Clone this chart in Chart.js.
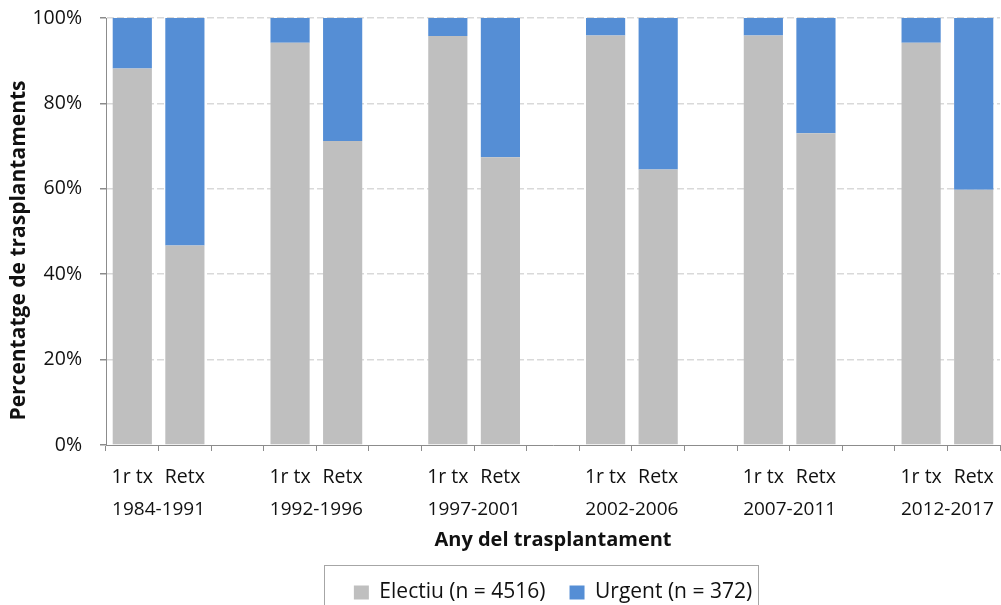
<!DOCTYPE html>
<html>
<head>
<meta charset="utf-8">
<script src="https://cdn.jsdelivr.net/npm/chart.js@4"></script>
<style>
  html, body { margin: 0; padding: 0; background: #fff; }
  #wrap { width: 1001px; height: 605px; position: relative; }
</style>
</head>
<body>
<div id="wrap"><canvas id="c" width="1001" height="605"></canvas></div>
<script>
const periods = ['1984-1991', '1992-1996', '1997-2001', '2002-2006', '2007-2011', '2012-2017'];
const subLabels = ['1r tx', 'Retx'];
const electiuFirst = [88.2, 94.2, 95.8, 95.9, 95.9, 94.2];
const electiuRetx  = [46.7, 71.2, 67.4, 64.5, 73.0, 59.8];
const urgentFirst  = [11.8, 5.8, 4.2, 4.1, 4.1, 5.8];
const urgentRetx   = [53.3, 28.8, 32.6, 35.5, 27.0, 40.2];
const yTicks = [0, 20, 40, 60, 80, 100];
const seriesNames = ['Electiu (n = 4516)', 'Urgent (n = 372)'];
const yTitle = 'Percentatge de trasplantaments';
const xTitle = 'Any del trasplantament';

// Build category list: per period two bars, blank spacer between periods
const labels = [], electiu = [], urgent = [];
periods.forEach((p, i) => {
  labels.push(subLabels[0]); electiu.push(electiuFirst[i]); urgent.push(urgentFirst[i]);
  labels.push(subLabels[1]); electiu.push(electiuRetx[i]);  urgent.push(urgentRetx[i]);
  if (i < periods.length - 1) { labels.push(''); electiu.push(null); urgent.push(null); }
});

const FONT = '"Open Sans", Lato, sans-serif';
const TXT = '#111111';
const AXIS = '#8c8c8c';

const legendBorder = {
  id: 'legendBorder',
  afterDraw(chart) {
    const lg = chart.legend;
    if (!lg || !lg.legendHitBoxes || !lg.legendHitBoxes.length) return;
    const hb = lg.legendHitBoxes;
    let l = Infinity, r = -Infinity, t = Infinity;
    hb.forEach(b => { l = Math.min(l, b.left); r = Math.max(r, b.left + b.width); t = Math.min(t, b.top); });
    const ctx = chart.ctx;
    ctx.save();
    ctx.strokeStyle = '#a6a6a6';
    ctx.lineWidth = 1;
    ctx.strokeRect(Math.round(l - 30) + 0.5, Math.round(t - 17) + 0.5, Math.round(r - l + 36), 80);
    ctx.restore();
  }
};

// Y-axis title, drawn beside the y scale (slightly below the plot centre, as in the original)
const yAxisTitle = {
  id: 'yAxisTitle',
  afterDraw(chart) {
    const s = chart.scales.y;
    const ctx = chart.ctx;
    ctx.save();
    ctx.translate(s.left + 19, (s.top + s.bottom) / 2 + 19);
    ctx.rotate(-Math.PI / 2);
    ctx.font = 'bold 21px ' + FONT;
    ctx.fillStyle = TXT;
    ctx.textAlign = 'center';
    ctx.textBaseline = 'middle';
    ctx.fillText(yTitle, 0, 0);
    ctx.restore();
  }
};

function noSidePadding(scale) { scale.paddingLeft = 0; scale.paddingRight = 0; }

new Chart(document.getElementById('c'), {
  type: 'bar',
  data: {
    labels: labels,
    datasets: [
      { label: seriesNames[0], data: electiu, backgroundColor: '#bfbfbf', borderWidth: 0 },
      { label: seriesNames[1], data: urgent, backgroundColor: '#558ed5', borderWidth: 0 }
    ]
  },
  plugins: [legendBorder, yAxisTitle],
  options: {
    responsive: false,
    animation: false,
    devicePixelRatio: 1,
    datasets: { bar: { categoryPercentage: 1.0, barPercentage: 0.745 } },
    layout: { padding: { top: 18, right: 1, left: 0, bottom: -8 } },
    plugins: {
      tooltip: { enabled: false },
      legend: {
        position: 'bottom',
        fullSize: false,
        labels: {
          font: { family: FONT, size: 21 },
          color: TXT,
          boxWidth: 15, boxHeight: 14,
          padding: 24,
          useBorderRadius: false
        }
      }
    },
    scales: {
      x: {
        type: 'category',
        stacked: true,
        weight: 0,
        afterFit(scale) { noSidePadding(scale); scale.height = 38; },
        grid: { display: true, drawOnChartArea: false, drawTicks: true, tickLength: 6, color: AXIS, offset: true },
        border: { display: true, color: AXIS, width: 1 },
        ticks: { font: { family: FONT, size: 19.5 }, color: TXT, padding: 14.8, maxRotation: 0, autoSkip: false }
      },
      x2: {
        type: 'linear',
        position: 'bottom',
        weight: 1,
        min: -0.5,
        max: labels.length - 0.5,
        offset: false,
        afterFit(scale) { noSidePadding(scale); scale.height = 75; },
        grid: { display: false, drawTicks: false, tickLength: 0 },
        border: { display: false },
        afterBuildTicks(scale) {
          scale.ticks = periods.map((p, i) => ({ value: 3 * i + 0.5 }));
        },
        ticks: {
          font: { family: FONT, size: 19 },
          color: TXT,
          padding: 15.6,
          maxRotation: 0,
          autoSkip: false,
          callback: (v, i) => periods[i]
        },
        title: {
          display: true,
          text: xTitle,
          font: { family: FONT, size: 20, weight: 'bold' },
          color: TXT,
          padding: { top: 6, bottom: 6 }
        }
      },
      y: {
        stacked: true,
        min: 0,
        max: 100,
        afterFit(scale) { scale.width = 106; scale.paddingTop = 0; scale.paddingBottom = 0; },
        afterBuildTicks(scale) { scale.ticks = yTicks.map(v => ({ value: v })); },
        grid: {
          color: ctx => (ctx.tick && ctx.tick.value === 0) ? 'rgba(0,0,0,0)' : '#d9d9d9',
          lineWidth: 1.5, drawTicks: true, tickLength: 6, tickColor: AXIS
        },
        border: { display: true, color: AXIS, width: 1, dash: [7, 3] },
        ticks: { font: { family: FONT, size: 19.5 }, color: TXT, padding: 18, callback: v => v + '%' },
        title: { display: false, text: yTitle }
      }
    }
  }
});
</script>
</body>
</html>
